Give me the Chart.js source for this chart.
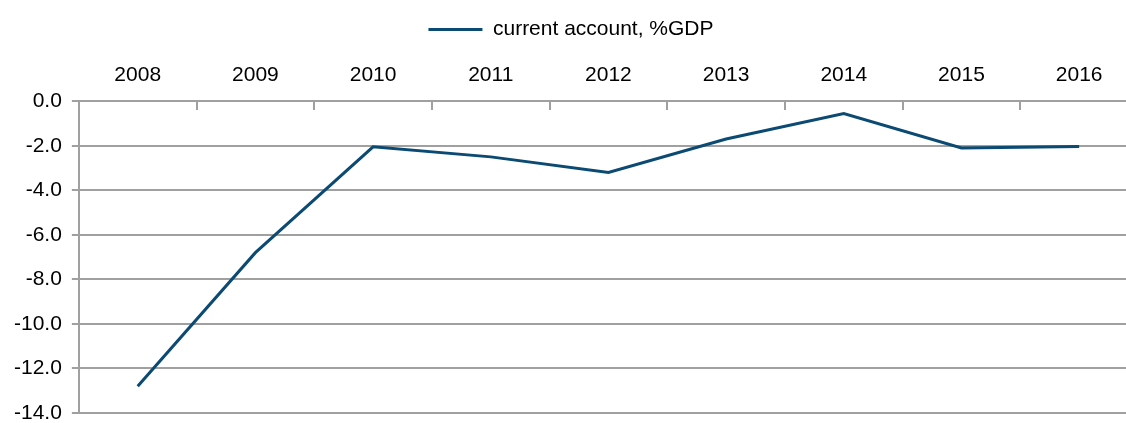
<!DOCTYPE html>
<html>
<head>
<meta charset="utf-8">
<script src="https://cdn.jsdelivr.net/npm/chart.js@4/dist/chart.umd.min.js"></script>
<style>
  html, body { margin: 0; padding: 0; background: #fff; overflow: hidden; }
  #wrap { width: 1138px; height: 423px; }
</style>
</head>
<body>
<div id="wrap"><canvas id="current-account-chart" width="1138" height="423"></canvas></div>
<script>
const years = ["2008", "2009", "2010", "2011", "2012", "2013", "2014", "2015", "2016"];
const currentAccount = [-12.8, -6.8, -2.05, -2.5, -3.2, -1.7, -0.55, -2.1, -2.03];
const yTicks = { min: -14, max: 0, step: 2 };

const gridGray = "#a0a0a0";
const lineBlue = "#0b4a72";
const fontFace = "Liberation Sans, Arial";

const ctx = document.getElementById("current-account-chart");

let chart = new Chart(ctx, {
  type: "line",
  data: {
    labels: years,
    datasets: [
      {
        label: "current account, %GDP",
        data: currentAccount,
        borderColor: lineBlue,
        backgroundColor: lineBlue,
        borderWidth: 3,
        pointRadius: 0,
        fill: false,
        tension: 0,
      },
    ],
  },
  options: {
    responsive: false,
    animation: false,
    layout: { padding: { left: 4, right: 0, top: 2, bottom: 0 } },
    plugins: {
      legend: {
        position: "top",
        labels: {
          color: "#000",
          font: { family: fontFace, size: 21 },
          usePointStyle: true,
          pointStyle: "line",
          pointStyleWidth: 54,
          padding: 17,
        },
      },
      tooltip: { enabled: false },
    },
    scales: {
      x: {
        position: "top",
        offset: true,
        grid: {
          offset: true,
          drawTicks: false,
          color: gridGray,
          lineWidth: 2,
        },
        border: { display: true, color: gridGray, width: 2, dash: [8, 1000] },
        ticks: {
          color: "#000",
          font: { family: fontFace, size: 21 },
          padding: 13,
          maxRotation: 0,
        },
      },
      y: {
        min: yTicks.min,
        max: yTicks.max,
        afterFit: function (scale) {
          scale.paddingBottom = 10;
        },
        grid: {
          color: gridGray,
          lineWidth: 2,
          tickLength: 7,
        },
        border: { display: true, color: gridGray, width: 2 },
        ticks: {
          stepSize: yTicks.step,
          color: "#000",
          font: { family: fontFace, size: 21 },
          padding: 10,
          callback: function (value) {
            return value.toFixed(1);
          },
        },
      },
    },
  },
});
</script>
</body>
</html>
